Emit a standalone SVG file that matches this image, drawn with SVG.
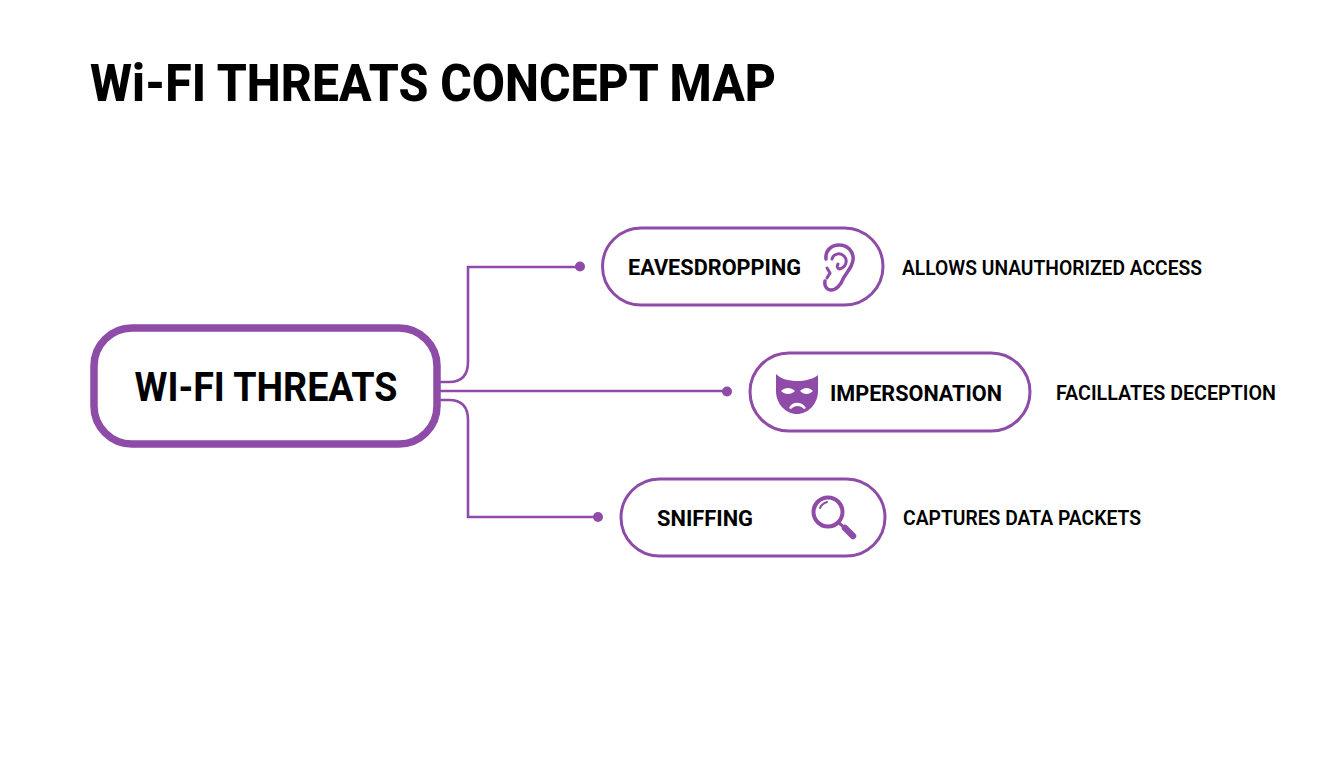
<svg xmlns="http://www.w3.org/2000/svg" width="1344" height="768" viewBox="0 0 1344 768">
<style>
text{font-family:Roboto,"Liberation Sans",sans-serif;fill:#000}
.t{font-weight:800}
.n{font-size:22px;font-weight:700}
.d{font-size:21px;font-weight:600}
.pill{fill:#fff;stroke:#8e4ba8;stroke-width:3}
.c{fill:none;stroke:#8e4ba8;stroke-width:2.6}
.dot{fill:#8e4ba8}
.ic{fill:none;stroke:#8e4ba8;stroke-width:3.500;stroke-linecap:round;stroke-linejoin:round}
</style>
<rect width="1344" height="768" fill="#fff"/>
<text class="t" x="90" y="101" font-size="51" textLength="686" lengthAdjust="spacingAndGlyphs">Wi-FI THREATS CONCEPT MAP</text>
<g id="connectors">
<path class="c" d="M440 382H449Q468 382 468 362V267H578"/>
<path class="c" d="M440 391H725"/>
<path class="c" d="M440 400H449Q468 400 468 420V517H596"/>
<circle class="dot" cx="580" cy="266.500" r="5"/>
<circle class="dot" cx="727" cy="391.500" r="5"/>
<circle class="dot" cx="598" cy="517" r="5"/>
</g>
<g id="root">
<rect x="94" y="328" width="343" height="116" rx="38" fill="#fff" stroke="#8e4ba8" stroke-width="7.500"/>
<text x="266" y="401" text-anchor="middle" font-size="41" font-weight="700" textLength="263" lengthAdjust="spacingAndGlyphs">WI-FI THREATS</text>
</g>
<g id="eavesdropping">
<rect class="pill" x="602.500" y="228" width="280.500" height="77" rx="38.500"/>
<text class="n" x="628" y="275" textLength="173" lengthAdjust="spacingAndGlyphs">EAVESDROPPING</text>
<g class="ic">
<path d="M826 259C825 250 832 245 839 245C848 245 854 252 853 260C852 268 846 273 843 279C841 285 836 290 831 290C827 290 824 286 825 281"/>
<path d="M832 259C833 254 840 252 844 256C848 260 846 266 842 268C839 270 836 268 838 264" stroke-width="3"/>
<path d="M827 268L830 273L827 278" stroke-width="3"/>
</g>
<text class="d" x="902" y="274.500" textLength="300" lengthAdjust="spacingAndGlyphs">ALLOWS UNAUTHORIZED ACCESS</text>
</g>
<g id="impersonation">
<rect class="pill" x="750" y="353" width="280" height="78" rx="39"/>
<path fill="#8e4ba8" fill-rule="evenodd" d="M776 374C781 379 789 381 797 381C805 381 813 379 818 375V391C818 404 808 414 797 414C786 414 776 404 776 391ZM781 391C785 387 791 387 795 391C791 395 785 395 781 391ZM800 391C804 387 809 387 813 391C809 395 804 395 800 391ZM789 408C792 401 802 401 806 408L804 409C800 405 795 405 791 409Z"/>
<text class="n" x="830" y="401" textLength="172" lengthAdjust="spacingAndGlyphs">IMPERSONATION</text>
<text class="d" x="1056" y="399.500" textLength="220" lengthAdjust="spacingAndGlyphs">FACILLATES DECEPTION</text>
</g>
<g id="sniffing">
<rect class="pill" x="621" y="479" width="264" height="77" rx="38.500"/>
<text class="n" x="657" y="526" textLength="96" lengthAdjust="spacingAndGlyphs">SNIFFING</text>
<g class="ic">
<circle cx="828" cy="512" r="14.500" stroke-width="4"/>
<path d="M820 508C821 505 824 503 827 502" stroke-width="2"/>
<path d="M839 523L845 528" stroke-width="3"/>
<path d="M845 528L853 536" stroke-width="6.500"/>
</g>
<text class="d" x="903" y="524.500" textLength="238" lengthAdjust="spacingAndGlyphs">CAPTURES DATA PACKETS</text>
</g>
</svg>
